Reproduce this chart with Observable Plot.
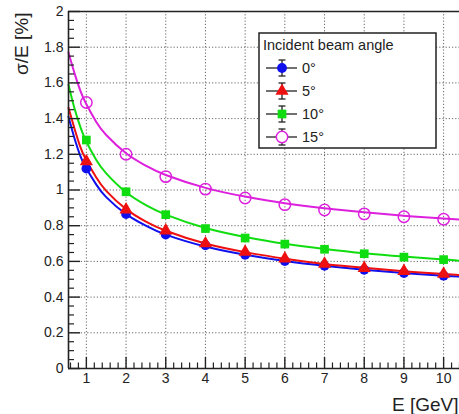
<!DOCTYPE html>
<html>
<head>
<meta charset="utf-8">
<script src="https://cdn.jsdelivr.net/npm/d3@7"></script>
<script src="https://cdn.jsdelivr.net/npm/@observablehq/plot@0.6"></script>
<style>
  html, body { margin: 0; padding: 0; background: #fff; overflow: hidden; }
  #chart svg { display: block; }
</style>
</head>
<body>
<div id="chart"></div>
<script>
// ---- data ----
const angles = ["0°", "5°", "10°", "15°"];
const energies = [1, 2, 3, 4, 5, 6, 7, 8, 9, 10];
const res0  = [1.12, 0.865, 0.75, 0.69, 0.637, 0.602, 0.575, 0.553, 0.535, 0.52];
const res5  = [1.16, 0.89, 0.772, 0.70, 0.653, 0.615, 0.586, 0.562, 0.545, 0.53];
const res10 = [1.28, 0.99, 0.862, 0.784, 0.731, 0.697, 0.668, 0.643, 0.624, 0.61];
const res15 = [1.49, 1.20, 1.075, 1.005, 0.955, 0.918, 0.888, 0.866, 0.85, 0.836];

// fit curves, read at sample energies
const fitE   = [0.55, 0.7, 0.85, 1, 1.25, 1.5, 2, 2.5, 3, 4, 5, 6, 7, 8, 9, 10, 10.4];
const fit0   = [1.41, 1.29, 1.19, 1.12, 1.03, 0.96, 0.865, 0.80, 0.75, 0.683, 0.637, 0.602, 0.575, 0.553, 0.535, 0.52, 0.515];
const fit5   = [1.46, 1.345, 1.24, 1.165, 1.07, 0.995, 0.893, 0.823, 0.772, 0.70, 0.652, 0.615, 0.586, 0.564, 0.545, 0.529, 0.524];
const fit10  = [1.59, 1.458, 1.352, 1.27, 1.168, 1.093, 0.987, 0.915, 0.862, 0.787, 0.737, 0.699, 0.670, 0.646, 0.627, 0.61, 0.604];
const fit15  = [1.77, 1.655, 1.555, 1.48, 1.381, 1.308, 1.206, 1.136, 1.084, 1.012, 0.963, 0.926, 0.898, 0.875, 0.856, 0.84, 0.834];

const xMajorTicks = [1, 2, 3, 4, 5, 6, 7, 8, 9, 10];
const xMinorTicks = [0.6, 0.8, 1.2, 1.4, 1.6, 1.8, 2.2, 2.4, 2.6, 2.8, 3.2, 3.4, 3.6, 3.8, 4.2, 4.4, 4.6, 4.8,
  5.2, 5.4, 5.6, 5.8, 6.2, 6.4, 6.6, 6.8, 7.2, 7.4, 7.6, 7.8, 8.2, 8.4, 8.6, 8.8, 9.2, 9.4, 9.6, 9.8, 10.2, 10.4];
const yMajorTicks = [0, 0.2, 0.4, 0.6, 0.8, 1, 1.2, 1.4, 1.6, 1.8, 2];
const yGridTicks = [0.2, 0.4, 0.6, 0.8, 1, 1.2, 1.4, 1.6, 1.8];
const yMinorTicks = [0.05, 0.1, 0.15, 0.25, 0.3, 0.35, 0.45, 0.5, 0.55, 0.65, 0.7, 0.75, 0.85, 0.9, 0.95,
  1.05, 1.1, 1.15, 1.25, 1.3, 1.35, 1.45, 1.5, 1.55, 1.65, 1.7, 1.75, 1.85, 1.9, 1.95];

const xTitle = "E [GeV]";
const yTitle = "σ/E [%]";
const legendTitle = "Incident beam angle";

// ---- style ----
const colors = ["#1010ee", "#ee1010", "#10dd10", "#dd20dd"];
const ink = "#222";

const resSeries = [res0, res5, res10, res15];
const fitSeries = [fit0, fit5, fit10, fit15];
const points = [];
resSeries.forEach((arr, k) => arr.forEach((v, i) => points.push({angle: angles[k], E: energies[i], v})));
const fits = [];
fitSeries.forEach((arr, k) => arr.forEach((v, i) => fits.push({angle: angles[k], E: fitE[i], v})));

const filled = points.filter(d => d.angle !== "15°");
const open = points.filter(d => d.angle === "15°");

const chart = Plot.plot({
  width: 459,
  height: 414,
  marginLeft: 68,
  marginTop: 11,
  marginBottom: 46,
  marginRight: 0,
  style: {fontFamily: "'Liberation Sans', Arial, sans-serif", background: "#fff", color: ink},
  x: {domain: [0.55, 10.4]},
  y: {domain: [0, 2]},
  color: {domain: angles, range: colors},
  symbol: {domain: ["0°", "5°", "10°"], range: ["circle", "triangle", "square"]},
  marks: [
    Plot.gridX(xMajorTicks, {stroke: "#555", strokeOpacity: 0.9, strokeDasharray: "1.2,2"}),
    Plot.gridY(yGridTicks, {stroke: "#555", strokeOpacity: 0.9, strokeDasharray: "1.2,2"}),
    Plot.line(fits, {x: "E", y: "v", z: "angle", stroke: "angle", strokeWidth: 2, curve: "natural"}),
    Plot.dot(filled, {x: "E", y: "v", fill: "angle", symbol: "angle", r: 4.9}),
    Plot.dot(open, {x: "E", y: "v", stroke: "angle", fill: "none", r: 5.7, strokeWidth: 1.5}),
    // frame (left, bottom, top)
    Plot.ruleX([0.55], {stroke: ink, strokeWidth: 1.6}),
    Plot.ruleY([0, 2], {stroke: ink, strokeWidth: 1.6}),
    // ticks pointing inward
    Plot.axisX({ticks: xMajorTicks, tickSize: 11, dy: -11, tickFormat: () => "", label: null, stroke: ink, strokeWidth: 1.4}),
    Plot.axisX({ticks: xMinorTicks, tickSize: 5.5, dy: -5.5, tickFormat: () => "", label: null, stroke: ink, strokeWidth: 1.2}),
    Plot.axisY({ticks: yMajorTicks, tickSize: 12, dx: 12, tickFormat: () => "", label: null, stroke: ink, strokeWidth: 1.4}),
    Plot.axisY({ticks: yMinorTicks, tickSize: 6, dx: 6, tickFormat: () => "", label: null, stroke: ink, strokeWidth: 1.2}),
    // tick labels
    Plot.axisX({ticks: xMajorTicks, tickSize: 0, tickPadding: 5, fontSize: 14, label: null, fill: ink}),
    Plot.axisY({ticks: yMajorTicks, tickSize: 0, tickPadding: 5, fontSize: 14, label: null, fill: ink, tickFormat: d3.format("~g")}),
    // axis titles
    Plot.text([yTitle], {frameAnchor: "top-left", rotate: -90, textAnchor: "end", lineAnchor: "bottom", dx: -41, dy: 1, fontSize: 19, fill: ink}),
    Plot.text([xTitle], {frameAnchor: "bottom-right", textAnchor: "end", lineAnchor: "bottom", dx: -1, dy: 42, fontSize: 19, fill: ink})
  ]
});
document.getElementById("chart").appendChild(chart);

// ---- legend box (inside the plot) ----
const svg = d3.select(chart);
const lg = svg.append("g")
  .attr("font-family", "'Liberation Sans', Arial, sans-serif")
  .attr("text-anchor", "start")
  .style("text-anchor", "start");
lg.append("rect").attr("x", 259).attr("y", 33).attr("width", 177).attr("height", 115)
  .attr("fill", "#fff").attr("stroke", ink).attr("stroke-width", 1.5);
lg.append("text").attr("x", 263).attr("y", 50).style("font-size", "14.5px").attr("fill", ink).text(legendTitle);
const legendSym = ["circle", "triangle", "square", "open"];
angles.forEach((a, k) => {
  const cy = 68 + k * 23, cx = 282;
  const g = lg.append("g");
  g.append("line").attr("x1", 266).attr("x2", 297).attr("y1", cy).attr("y2", cy).attr("stroke", ink).attr("stroke-width", 1.3);
  g.append("line").attr("x1", cx).attr("x2", cx).attr("y1", cy - 8).attr("y2", cy + 8).attr("stroke", ink).attr("stroke-width", 1.3);
  g.append("line").attr("x1", cx - 3.5).attr("x2", cx + 3.5).attr("y1", cy - 8).attr("y2", cy - 8).attr("stroke", ink).attr("stroke-width", 1.3);
  g.append("line").attr("x1", cx - 3.5).attr("x2", cx + 3.5).attr("y1", cy + 8).attr("y2", cy + 8).attr("stroke", ink).attr("stroke-width", 1.3);
  const s = legendSym[k];
  if (s === "circle") g.append("circle").attr("cx", cx).attr("cy", cy).attr("r", 4.9).attr("fill", colors[k]);
  else if (s === "triangle") g.append("path").attr("transform", `translate(${cx},${cy})`).attr("d", d3.symbol(d3.symbolTriangle, Math.PI * 4.9 * 4.9)()).attr("fill", colors[k]);
  else if (s === "square") g.append("path").attr("transform", `translate(${cx},${cy})`).attr("d", d3.symbol(d3.symbolSquare, Math.PI * 4.9 * 4.9)()).attr("fill", colors[k]);
  else g.append("circle").attr("cx", cx).attr("cy", cy).attr("r", 5.7).attr("fill", "#fff").attr("stroke", colors[k]).attr("stroke-width", 1.5);
  g.append("text").attr("x", 302).attr("y", cy).attr("dy", "0.35em").style("font-size", "14.5px").attr("fill", ink).text(a);
});
</script>
</body>
</html>
